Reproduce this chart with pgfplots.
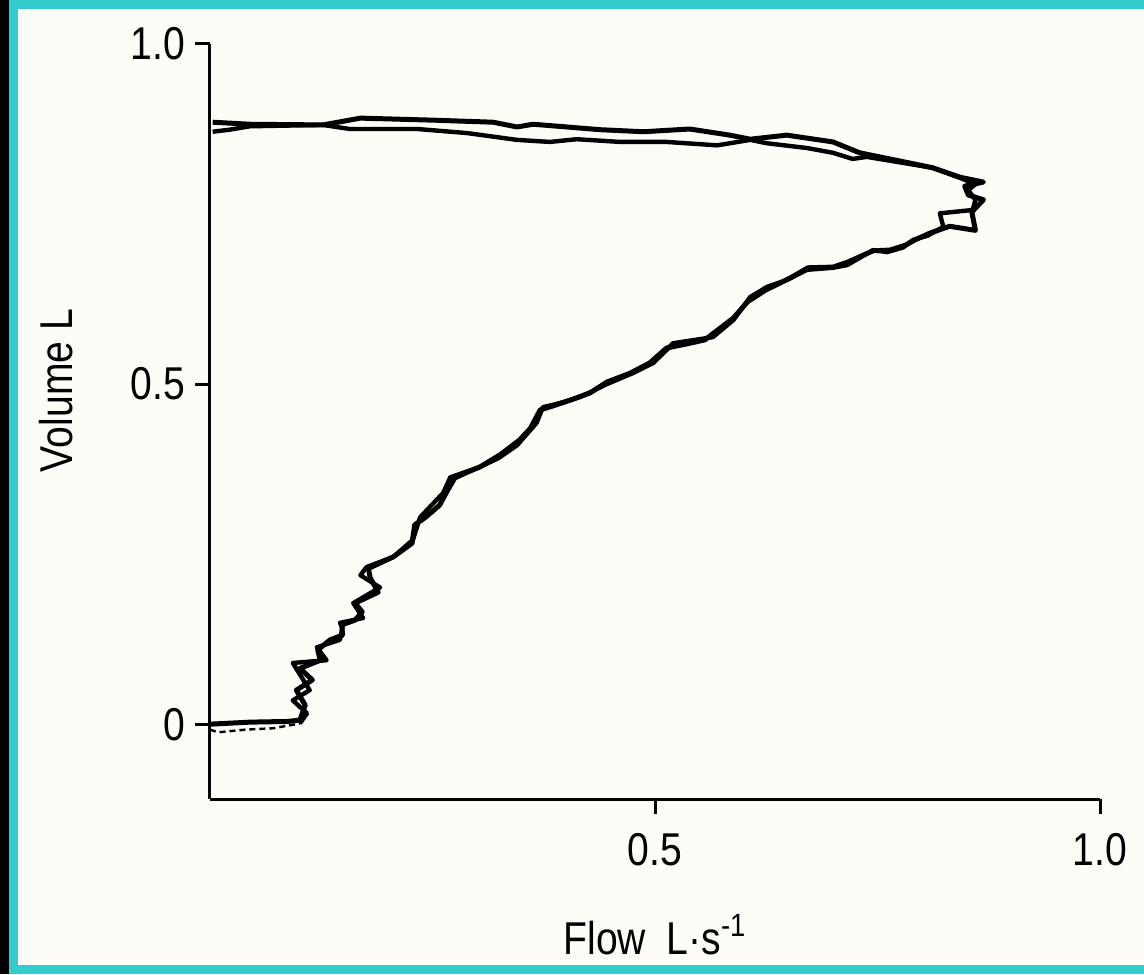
\documentclass[border=0pt]{standalone}
\usepackage{pgfplots}
\pgfplotsset{compat=1.18}
\usepackage{fontspec}
\setmainfont{Liberation Sans}[FakeStretch=0.85]

\definecolor{paper}{RGB}{253,252,247}
\definecolor{frame}{RGB}{51,204,204}

\newcommand{\labfont}{\fontsize{23}{27}\selectfont}

% two traced flow-volume loops (flow L/s, volume L)
\pgfplotstableread{
x y
0.000 0.000
0.045 0.003
0.087 0.004
0.101 0.006
0.107 0.028
0.097 0.050
0.115 0.065
0.101 0.082
0.124 0.094
0.121 0.109
0.135 0.124
0.149 0.131
0.148 0.146
0.163 0.153
0.171 0.165
0.163 0.178
0.189 0.194
0.180 0.215
0.178 0.229
0.206 0.246
0.227 0.266
0.230 0.293
0.242 0.304
0.258 0.322
0.267 0.344
0.275 0.362
0.290 0.371
0.303 0.378
0.326 0.396
0.348 0.418
0.360 0.435
0.371 0.462
0.388 0.469
0.404 0.476
0.427 0.487
0.446 0.503
0.472 0.516
0.494 0.531
0.513 0.553
0.539 0.560
0.556 0.565
0.567 0.576
0.588 0.597
0.604 0.621
0.624 0.638
0.652 0.656
0.672 0.671
0.700 0.672
0.716 0.679
0.745 0.696
0.764 0.697
0.781 0.704
0.792 0.712
0.809 0.722
0.831 0.732
0.860 0.726
0.856 0.753
0.869 0.771
0.852 0.778
0.848 0.791
0.869 0.797
0.843 0.804
0.812 0.818
0.775 0.828
0.730 0.840
0.700 0.856
0.648 0.866
0.607 0.860
0.584 0.866
0.539 0.875
0.487 0.871
0.438 0.874
0.401 0.878
0.363 0.882
0.345 0.878
0.318 0.885
0.251 0.888
0.169 0.891
0.127 0.881
0.045 0.882
0.003 0.885
}\loopA

\pgfplotstableread{
x y
0.101 0.001
0.109 0.016
0.093 0.035
0.112 0.050
0.093 0.090
0.131 0.094
0.120 0.113
0.146 0.124
0.149 0.143
0.146 0.149
0.172 0.156
0.161 0.178
0.191 0.201
0.169 0.219
0.176 0.231
0.206 0.246
0.228 0.271
0.236 0.304
0.262 0.340
0.270 0.363
0.303 0.378
0.324 0.391
0.345 0.410
0.367 0.443
0.374 0.466
0.393 0.472
0.416 0.481
0.446 0.500
0.475 0.516
0.498 0.531
0.513 0.550
0.520 0.560
0.565 0.569
0.588 0.594
0.607 0.628
0.626 0.643
0.648 0.653
0.671 0.668
0.700 0.671
0.716 0.675
0.745 0.697
0.761 0.694
0.779 0.701
0.790 0.712
0.806 0.718
0.824 0.731
0.820 0.751
0.857 0.756
0.860 0.771
0.852 0.785
0.860 0.794
0.843 0.803
0.812 0.818
0.775 0.826
0.738 0.834
0.722 0.831
0.700 0.840
0.671 0.847
0.626 0.854
0.607 0.859
0.570 0.851
0.513 0.856
0.461 0.856
0.412 0.860
0.382 0.856
0.345 0.859
0.289 0.869
0.233 0.875
0.157 0.875
0.127 0.881
0.045 0.879
0.022 0.874
0.003 0.871
}\loopB

\begin{document}
\begin{tikzpicture}
% scanned page: off-white paper, cyan frame, dark strip at left
\fill[paper] (0,0) rectangle (572pt,487pt);
\fill[black] (0,0) rectangle (4.5pt,487pt);
\fill[frame] (4.5pt,0) rectangle (9pt,487pt);
\fill[frame] (4.5pt,482.5pt) rectangle (572pt,487pt);
\fill[frame] (4.5pt,0) rectangle (572pt,4.5pt);

\begin{axis}[
    at={(105pt,87.5pt)}, anchor=south west,
    scale only axis,
    width=445pt, height=377.5pt,
    xmin=0, xmax=1,
    ymin=-0.11, ymax=1.0,
    axis lines=left,
    axis line style={line width=1.5pt, -},
    xtick={0.5,1}, xticklabels={0.5,1.0},
    ytick={0,0.5,1}, yticklabels={0,0.5,1.0},
    tick align=outside,
    major tick length=7.5pt,
    tick style={line width=1.5pt, black},
    tick label style={font=\labfont},
    /pgf/number format/assume math mode=true,
    xticklabel style={anchor=north, yshift=-6pt},
    yticklabel style={xshift=-1.5pt},
    xlabel={Flow\hspace{0.45em}L·s\textsuperscript{-1}},
    ylabel={Volume L},
    every axis x label/.style={font=\labfont, at={(axis description cs:0.5,0)}, anchor=center, yshift=-68pt},
    every axis y label/.style={font=\labfont, at={(axis description cs:-0.173,0.541)}, anchor=center, rotate=90},
    clip=false,
]
\addplot[black, line width=1.2pt, densely dashed] coordinates {
    (0.000,-0.008) (0.009,-0.012) (0.040,-0.008) (0.071,-0.006) (0.101,0.001)
};
\addplot[black, line width=2.5pt, line join=round] table {\loopA};
\addplot[black, line width=2.2pt, line join=round] table {\loopB};
\end{axis}

\pgfresetboundingbox
\useasboundingbox (0,0) rectangle (572pt,487pt);
\end{tikzpicture}
\end{document}
